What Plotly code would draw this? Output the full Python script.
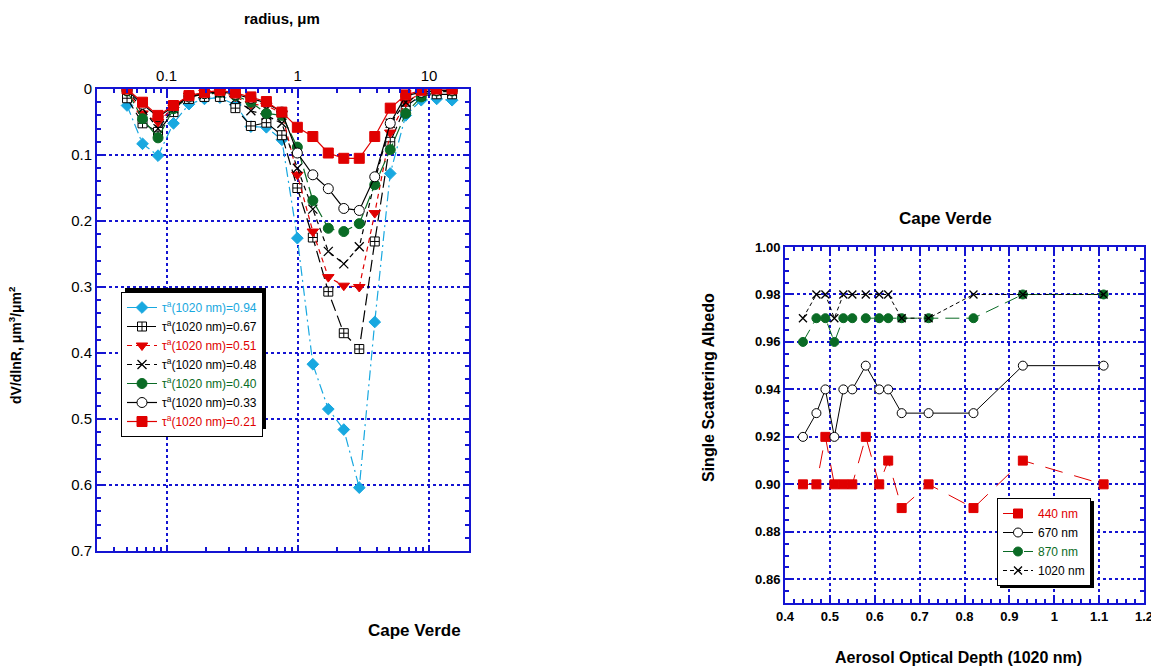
import plotly.graph_objects as go

W, H = 1151, 667
def fx(x): return x / W
def fy(y): return 1 - y / H

# ---------------- Left panel data (volume size distribution) ----------------
radius = [0.05, 0.0656, 0.0861, 0.1130, 0.1482, 0.1945, 0.2552, 0.3349, 0.4394, 0.5766, 0.7566,
          0.9928, 1.3027, 1.7093, 2.2429, 2.9431, 3.8619, 5.0674, 6.6493, 8.7251, 11.4488, 15.0]

dv_021 = [0.0, 0.02, 0.04, 0.025, 0.01, 0.005, 0.002, 0.006, 0.012, 0.019, 0.035,
          0.058, 0.072, 0.097, 0.105, 0.105, 0.072, 0.029, 0.009, 0.002, 0.0, 0.0]
dv_033 = [0.002, 0.023, 0.042, 0.027, 0.012, 0.007, 0.004, 0.008, 0.014, 0.021, 0.035,
          0.097, 0.130, 0.151, 0.181, 0.184, 0.133, 0.052, 0.010, 0.005, 0.002, 0.002]
dv_040 = [0.003, 0.045, 0.074, 0.030, 0.010, 0.007, 0.005, 0.010, 0.020, 0.037, 0.040,
          0.088, 0.169, 0.211, 0.216, 0.204, 0.145, 0.092, 0.037, 0.012, 0.003, 0.003]
dv_048 = [0.002, 0.030, 0.060, 0.030, 0.012, 0.008, 0.006, 0.015, 0.033, 0.040, 0.052,
          0.120, 0.182, 0.246, 0.265, 0.239, 0.140, 0.052, 0.020, 0.008, 0.004, 0.004]
dv_051 = [0.003, 0.037, 0.050, 0.028, 0.010, 0.006, 0.004, 0.012, 0.023, 0.025, 0.037,
          0.130, 0.216, 0.285, 0.298, 0.300, 0.188, 0.066, 0.020, 0.006, 0.002, 0.002]
dv_067 = [0.014, 0.052, 0.065, 0.035, 0.015, 0.012, 0.012, 0.029, 0.056, 0.051, 0.070,
          0.150, 0.225, 0.307, 0.370, 0.394, 0.231, 0.080, 0.026, 0.010, 0.008, 0.008]
dv_094 = [0.025, 0.083, 0.101, 0.052, 0.023, 0.015, 0.013, 0.024, 0.057, 0.058, 0.077,
          0.226, 0.417, 0.485, 0.516, 0.604, 0.353, 0.128, 0.040, 0.017, 0.015, 0.017]

aod_labels = ["0.94", "0.67", "0.51", "0.48", "0.40", "0.33", "0.21"]

# ---------------- Right panel data (single scattering albedo) ----------------
aod_1020 = [0.44, 0.47, 0.49, 0.51, 0.53, 0.55, 0.58, 0.61, 0.63, 0.66, 0.72, 0.82, 0.93, 1.11]
ssa_440 = [0.90, 0.90, 0.92, 0.90, 0.90, 0.90, 0.92, 0.90, 0.91, 0.89, 0.90, 0.89, 0.91, 0.90]
ssa_670 = [0.92, 0.93, 0.94, 0.92, 0.94, 0.94, 0.95, 0.94, 0.94, 0.93, 0.93, 0.93, 0.95, 0.95]
ssa_870 = [0.96, 0.97, 0.97, 0.96, 0.97, 0.97, 0.97, 0.97, 0.97, 0.97, 0.97, 0.97, 0.98, 0.98]
ssa_1020 = [0.97, 0.98, 0.98, 0.97, 0.98, 0.98, 0.98, 0.98, 0.98, 0.97, 0.97, 0.98, 0.98, 0.98]
wl_labels = ["440 nm", "670 nm", "870 nm", "1020 nm"]
x2_ticks = [0.4, 0.5, 0.6, 0.7, 0.8, 0.9, 1.0, 1.1, 1.2]
x2_ticktext = ["0.4", "0.5", "0.6", "0.7", "0.8", "0.9", "1", "1.1", "1.2"]

RED = "#E00000"
GREEN = "#0A6B25"
CYAN = "#18A8E0"
BLACK = "#000000"
BLUE = "#1414D2"
FONT = "Arial, Liberation Sans, sans-serif"

fig = go.Figure()

left_series = [
    (dv_094, aod_labels[0], CYAN, "diamond", CYAN, 9, "10px,4px,2px,4px", CYAN),
    (dv_067, aod_labels[1], "white", "square-cross", BLACK, 9, "12px,5px", BLACK),
    (dv_051, aod_labels[2], RED, "triangle-down", RED, 10, "5px,4px", RED),
    (dv_048, aod_labels[3], BLACK, "x-thin-open", BLACK, 9, "5px,4px", BLACK),
    (dv_040, aod_labels[4], GREEN, "circle", GREEN, 10, "14px,5px", GREEN),
    (dv_033, aod_labels[5], "white", "circle", BLACK, 10, "solid", BLACK),
    (dv_021, aod_labels[6], RED, "square", RED, 10, "solid", RED),
]
for ys, lab, mcol, sym, lcol, size, dash, tcol in left_series:
    fig.add_trace(go.Scatter(
        x=radius, y=ys, mode="lines+markers",
        name=f"<span style='color:{tcol}'>τ<sup>a</sup>(1020 nm)={lab}</span>",
        line=dict(color=lcol, width=1.2, dash=dash),
        marker=dict(symbol=sym, size=size, color=mcol,
                    line=dict(color=lcol, width=1.3 if sym == "x-thin-open" else 1)),
        xaxis="x", yaxis="y", legend="legend"))

right_series = [
    (ssa_440, wl_labels[0], RED, "square", RED, 9, "18px,12px", RED),
    (ssa_670, wl_labels[1], "white", "circle", BLACK, 9, "solid", BLACK),
    (ssa_870, wl_labels[2], GREEN, "circle", GREEN, 9, "14px,7px", GREEN),
    (ssa_1020, wl_labels[3], BLACK, "x-thin-open", BLACK, 8, "4px,3px", BLACK),
]
for ys, lab, mcol, sym, lcol, size, dash, tcol in right_series:
    fig.add_trace(go.Scatter(
        x=aod_1020, y=ys, mode="lines+markers",
        name=f"<span style='color:{tcol}'>{lab}</span>",
        line=dict(color=lcol, width=1, dash=dash),
        marker=dict(symbol=sym, size=size, color=mcol,
                    line=dict(color=lcol, width=1.3 if sym == "x-thin-open" else 1)),
        xaxis="x2", yaxis="y2", legend="legend2"))

minor_log = [m * 10 ** e for e in (-2, -1, 0, 1) for m in range(2, 10)]

axis_common = dict(showline=True, linecolor=BLUE, linewidth=2, mirror="allticks",
                   ticks="inside", tickcolor=BLUE, ticklen=6, tickwidth=1.5,
                   showgrid=True, gridcolor=BLUE, gridwidth=1.6, griddash="dot",
                   zeroline=False, automargin=False, ticklabeloverflow="allow")

fig.update_layout(
    width=W, height=H, margin=dict(l=0, r=0, t=0, b=0),
    paper_bgcolor="white", plot_bgcolor="white",
    font=dict(family=FONT, color="black"),
    xaxis=dict(domain=[fx(97), fx(469)], anchor="y", type="log", side="top",
               range=[-1.53, 1.305], tickvals=[0.1, 1, 10], ticktext=["0.1", "1", "10"],
               tickfont=dict(size=15),
               minor=dict(tickvals=minor_log, ticks="inside", ticklen=4, tickcolor=BLUE, showgrid=False),
               **axis_common),
    yaxis=dict(domain=[fy(551), fy(89)], anchor="x", range=[0.7, 0], dtick=0.1,
               tickfont=dict(size=15),
               minor=dict(dtick=0.02, ticks="inside", ticklen=4, tickcolor=BLUE, showgrid=False),
               **axis_common),
    xaxis2=dict(domain=[fx(785), fx(1144)], anchor="y2", range=[0.4, 1.2000001],
                tickvals=x2_ticks, ticktext=x2_ticktext,
                tickfont=dict(size=13, weight="bold"),
                minor=dict(dtick=0.02, tick0=0.4, ticks="inside", ticklen=4, tickcolor=BLUE, showgrid=False),
                **axis_common),
    yaxis2=dict(domain=[fy(603), fy(247)], anchor="x2", range=[0.85, 1.0], dtick=0.02,
                tick0=0.86, tickformat=".2f", tickfont=dict(size=13, weight="bold"),
                minor=dict(dtick=0.005, ticks="inside", ticklen=4, tickcolor=BLUE, showgrid=False),
                **axis_common),
    legend=dict(x=fx(121), y=fy(292), xanchor="left", yanchor="top",
                bgcolor="white", bordercolor="black", borderwidth=1,
                font=dict(size=12, family=FONT)),
    legend2=dict(x=fx(997), y=fy(498), xanchor="left", yanchor="top",
                 bgcolor="white", bordercolor="black", borderwidth=1,
                 font=dict(size=12, family=FONT), tracegroupgap=0),
    showlegend=True,
)

# drop shadows behind the two legend boxes
fig.add_shape(type="rect", xref="paper", yref="paper", layer="above",
              x0=fx(125), x1=fx(266), y0=fy(288), y1=fy(429),
              fillcolor="black", line=dict(width=0))
fig.add_shape(type="rect", xref="paper", yref="paper", layer="above",
              x0=fx(1000), x1=fx(1094), y0=fy(501), y1=fy(588),
              fillcolor="black", line=dict(width=0))

ann = [
    dict(text="radius, μm", x=fx(282), y=fy(18), font=dict(size=15, weight="bold")),
    dict(text="Cape Verde", x=fx(414), y=fy(630), font=dict(size=17, weight="bold")),
    dict(text="dV/dlnR, μm<sup>3</sup>/μm<sup>2</sup>", x=fx(15), y=fy(345), textangle=-90,
         font=dict(size=14, weight="bold")),
    dict(text="Cape Verde", x=fx(945), y=fy(218), font=dict(size=17, weight="bold")),
    dict(text="Aerosol Optical Depth (1020 nm)", x=fx(958), y=fy(657), font=dict(size=16, weight="bold")),
    dict(text="Single Scattering Albedo", x=fx(708), y=fy(388), textangle=-90,
         font=dict(size=16, weight="bold")),
]
for a in ann:
    a.update(xref="paper", yref="paper", showarrow=False, xanchor="center", yanchor="middle")
fig.update_layout(annotations=ann)

fig.write_html("out.html", config={"displayModeBar": False},
               post_script="document.body.style.margin='0px';document.body.style.overflow='hidden';")
